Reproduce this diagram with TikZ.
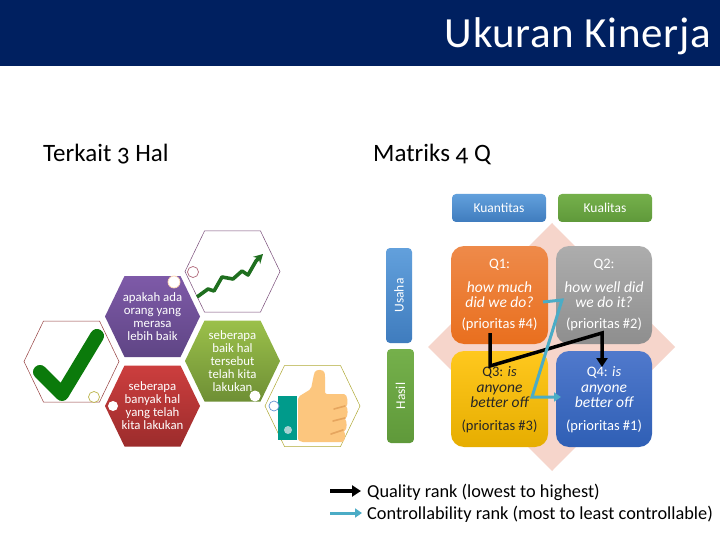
\documentclass[tikz,border=0pt]{standalone}
\usepackage{fontspec}
\setmainfont[Numbers=OldStyle]{Carlito}
\newfontfamily\titlefont[LetterSpace=1.5]{Carlito}
\newfontfamily\liningfont[Numbers=Lining]{Carlito}
\usetikzlibrary{arrows.meta,calc}
\definecolor{navy}{HTML}{002060}
\definecolor{diamondc}{HTML}{F6D5CB}
\definecolor{arrowteal}{HTML}{4BACC6}
\definecolor{purpleT}{HTML}{7E5AA8}
\definecolor{purpleB}{HTML}{5F4585}
\definecolor{redT}{HTML}{CC3E3E}
\definecolor{redB}{HTML}{9C2C2C}
\definecolor{greenT}{HTML}{9BC04A}
\definecolor{greenB}{HTML}{6E8F35}
\definecolor{blueT}{HTML}{62A0DC}
\definecolor{blueB}{HTML}{3F7CBE}
\definecolor{grassT}{HTML}{75B04B}
\definecolor{grassB}{HTML}{5F993A}
\definecolor{q1T}{HTML}{EE8A4A}
\definecolor{q1B}{HTML}{E96F1E}
\definecolor{q2T}{HTML}{ADADAD}
\definecolor{q2B}{HTML}{8E8E8E}
\definecolor{q3T}{HTML}{FFC81E}
\definecolor{q3B}{HTML}{E6AD00}
\definecolor{q4T}{HTML}{5079CC}
\definecolor{q4B}{HTML}{2F5FB5}
\definecolor{checkc}{HTML}{0B7A0B}
\definecolor{chartc}{HTML}{1F6F1F}
\definecolor{handc}{HTML}{FCC67E}
\definecolor{fingerc}{HTML}{E6A55E}
\definecolor{cuffc}{HTML}{009B8B}
\tikzset{
  hexline/.style={line width=.5pt,fill=white},
  dot/.style={circle,inner sep=0pt,minimum size=#1},
  hextext/.style={text=white,font=\fontsize{12.8}{13}\selectfont,align=center},
  bigtext/.style={font=\fontsize{25}{28}\selectfont,anchor=west,text=black},
  legend/.style={font=\fontsize{18.3}{20}\selectfont,anchor=west,text=black},
  headbox/.style={rounded corners=4pt,text=white,font=\fontsize{13.5}{14}\selectfont,inner sep=0pt},
  qbox/.style={rounded corners=13pt},
  qtext/.style={font=\liningfont\fontsize{14.5}{16}\selectfont,text=white,align=center},
  qital/.style={qtext,font=\liningfont\fontsize{15.5}{15}\itshape\selectfont},
  blackarrow/.style={line width=3.5pt,black,-{Triangle[length=9pt,width=11pt]}},
  tealarrow/.style={line width=3pt,arrowteal,-{Triangle[length=7pt,width=9pt]}},
}
\newcommand{\hexat}[3]{% centre x, centre y, options
  \path[#3] (#1-47.5,#2) -- (#1-28,#2-40.5) -- (#1+28,#2-40.5) -- (#1+47.5,#2) -- (#1+28,#2+40.5) -- (#1-28,#2+40.5) -- cycle;}
\begin{document}
\begin{tikzpicture}[x=1pt,y=-1pt]
\useasboundingbox (0,0) rectangle (720,540);
\fill[white] (0,0) rectangle (720,540);
% header
\fill[navy] (0,0) rectangle (720,66);
\node[anchor=east,text=white,font=\titlefont\fontsize{43}{46}\selectfont,inner sep=0pt] (title) at (711,36) {Ukuran Kinerja};
\node[bigtext,inner sep=0pt] (lefth) at (43,154) {Terkait 3 Hal};
\node[bigtext,inner sep=0pt] (righth) at (373,154) {Matriks 4 Q};

% hexagons
\hexat{71.5}{361.5}{hexline,draw=red!45!black!75}
\hexat{152.5}{316.5}{top color=purpleT,bottom color=purpleB}
\hexat{152.5}{406}{top color=redT,bottom color=redB}
\hexat{232.5}{271.5}{hexline,draw=violet!50!black!70}
\hexat{232.5}{361}{top color=greenT,bottom color=greenB}
\hexat{312.5}{406}{hexline,draw=olive!70!white}

\node[hextext] (t1) at (152.5,317) {apakah ada\\orang yang\\merasa\\lebih baik};
\node[hextext] (t2) at (152.5,405.5) {seberapa\\banyak hal\\yang telah\\kita lakukan};
\node[hextext] (t3) at (232.5,361) {seberapa\\baik hal\\tersebut\\telah kita\\lakukan};

% check mark
\draw[line width=14pt,line cap=round,line join=round,checkc] (40,372) -- (62,394) -- (97,336);

% growth line
\draw[line width=3.6pt,chartc,line join=round,-{Stealth[length=9pt,width=10pt]}]
  (197,297) -- (208,289) -- (214,291) -- (222,277) -- (233,279) -- (242,271) -- (248,275) -- (256,261) -- (263,254);

% thumb
\fill[handc,rounded corners=2pt]
  (298,397) -- (311,389) -- (314,374) .. controls (316,369) and (324,369) .. (325,375) -- (325,394) -- (342,394)
  .. controls (348,394) and (348,405) .. (345,406) .. controls (348,408) and (348,417) .. (344,419)
  .. controls (347,421) and (347,430) .. (343,431) .. controls (346,434) and (345,442) .. (340,442)
  -- (305,442) .. controls (300,442) and (298,440) .. (298,437) -- cycle;
\fill[cuffc] (278,396) rectangle (297,440);
\draw[line width=1.6pt,fingerc,line cap=round] (334,409) -- (345,406) (333,421) -- (345,418) (331,434) -- (343,430);

% small dots
\node[dot=12pt,fill=white,draw=orange!30!white,line width=.7pt] (d1) at (174,282) {};
\node[dot=11pt,fill=white,draw=olive!60!white,line width=.7pt] (d2) at (94,397) {};
\node[dot=10pt,fill=white] (d3) at (113,406) {};
\node[dot=11pt,fill=white,draw=violet!40!red!60!black!60,line width=.7pt] (d4) at (193,272) {};
\node[dot=11pt,fill=white] (d5) at (255,396) {};
\node[dot=10pt,fill=white,draw=teal!60!blue!60,line width=.7pt] (d6) at (274,406) {};
\node[dot=8pt,fill=teal!35!white] (d7) at (288,430) {};

% matrix
\fill[diamondc] (552,223) -- (675,347) -- (552,471) -- (428,347) -- cycle;
\node[headbox,minimum width=94pt,minimum height=28pt,top color=blueT,bottom color=blueB] (kuan) at (499,208) {Kuantitas};
\node[headbox,minimum width=94pt,minimum height=28pt,top color=grassT,bottom color=grassB] (kual) at (605,208) {Kualitas};
\node[headbox,minimum width=95pt,minimum height=26pt,top color=blueT,bottom color=blueB,rotate=90] (usaha) at (399,295.5) {Usaha};
\node[headbox,minimum width=94pt,minimum height=27pt,top color=grassT,bottom color=grassB,rotate=90] (hasil) at (400.5,396) {Hasil};

\node[qbox,minimum width=97pt,minimum height=98pt,inner sep=0pt,top color=q1T,bottom color=q1B] (q1) at (499.5,295) {};
\node[qbox,minimum width=96pt,minimum height=98pt,inner sep=0pt,top color=q2T,bottom color=q2B] (q2) at (604,295) {};
\node[qbox,minimum width=97pt,minimum height=96pt,inner sep=0pt,top color=q3T,bottom color=q3B] (q3) at (499.5,399) {};
\node[qbox,minimum width=96pt,minimum height=96pt,inner sep=0pt,top color=q4T,bottom color=q4B] (q4) at (604,399) {};

\node[qtext] (q1a) at (499.5,265) {Q1:};
\node[qital] (q1b) at (499.5,294.5) {how much\\did we do?};
\node[qtext] (q1c) at (499.5,324) {(prioritas \#4)};
\node[qtext] (q2a) at (604,265) {Q2:};
\node[qital] (q2b) at (604,294.5) {how well did\\we do it?};
\node[qtext] (q2c) at (604,324) {(prioritas \#2)};
\node[qtext,text=black!85] (q3a) at (499.5,372) {Q3: \textit{is}};
\node[qital,text=black!85] (q3b) at (499.5,396.5) {anyone\\better off};
\node[qtext,text=black!85] (q3c) at (499.5,426) {(prioritas \#3)};
\node[qtext] (q4a) at (604,372) {Q4: \textit{is}};
\node[qital] (q4b) at (604,396.5) {anyone\\better off};
\node[qtext] (q4c) at (604,426) {(prioritas \#1)};

% connectors
\coordinate (b1) at (490,333);
\coordinate (b2) at (490,366);
\coordinate (b3) at (602,333);
\coordinate (b4) at (602,367);
\coordinate (c1) at (543,302);
\coordinate (c2) at (562,300);
\coordinate (c3) at (532,397);
\coordinate (c4) at (561,397);
\draw[blackarrow,line join=miter] (b1) -- (b2) -- (b3) -- (b4);
\draw[tealarrow,line join=miter] (c1) -- (c2) -- (c3) -- (c4);

% legend
\coordinate (l1) at (330,491);
\coordinate (l2) at (361,491);
\coordinate (l3) at (330,513);
\coordinate (l4) at (362,513);
\draw[blackarrow] (l1) -- (l2);
\draw[tealarrow] (l3) -- (l4);
\node[legend,inner sep=0pt] (lq) at (367,492) {Quality rank (lowest to highest)};
\node[legend,inner sep=0pt] (lc) at (367,514) {Controllability rank (most to least controllable)};
\end{tikzpicture}
\end{document}
